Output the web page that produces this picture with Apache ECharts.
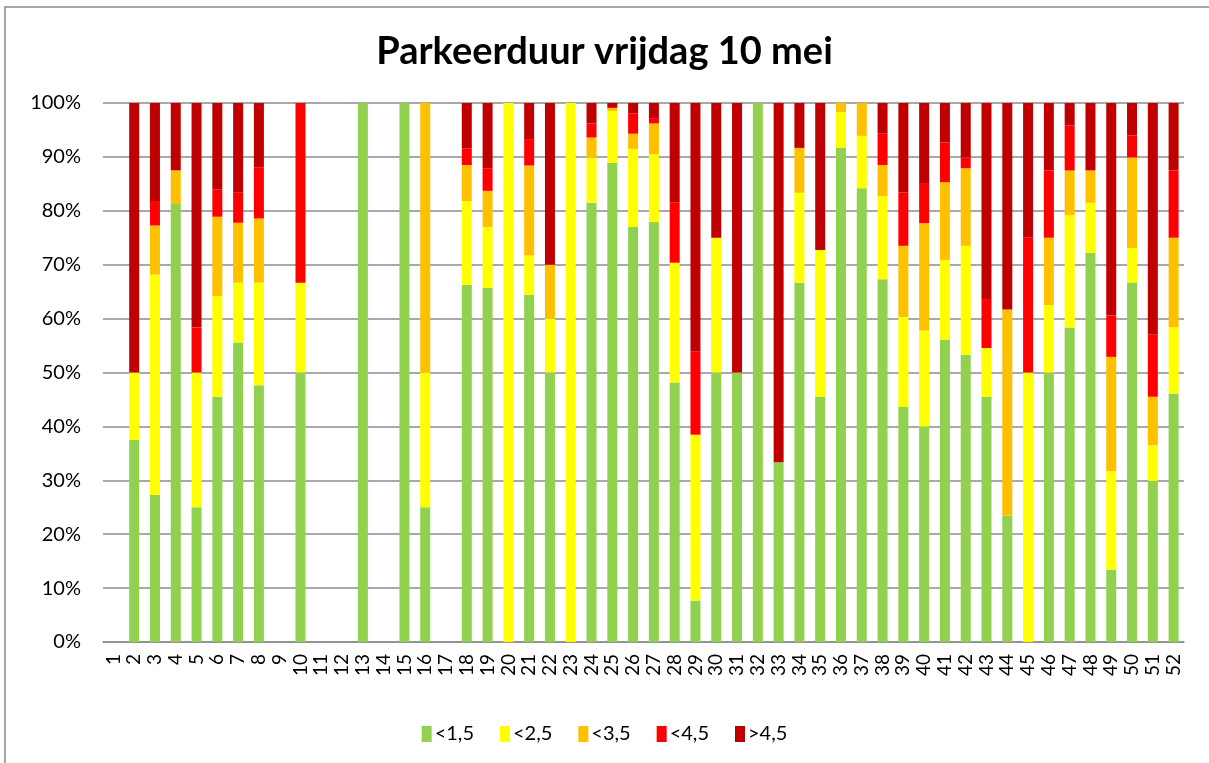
<!DOCTYPE html>
<html>
<head>
<meta charset="utf-8">
<script src="https://cdn.jsdelivr.net/npm/echarts@6/dist/echarts.min.js"></script>
<style>
html,body{margin:0;padding:0;background:#fff;}
#chart{width:1209px;height:763px;}
</style>
</head>
<body>
<div id="chart"></div>
<script>
const categories = ['1','2','3','4','5','6','7','8','9','10','11','12','13','14','15','16','17','18','19','20','21','22','23','24','25','26','27','28','29','30','31','32','33','34','35','36','37','38','39','40','41','42','43','44','45','46','47','48','49','50','51','52'];
const seriesNames = ['<1,5','<2,5','<3,5','<4,5','>4,5'];
const seriesColors = ['#92D050','#FFFF00','#FFC000','#FF0000','#C00000'];

const lt15 = [0,37.5,27.27,81.25,25,45.5,55.56,47.62,0,50,0,0,100,0,100,25,0,66.3,65.7,0,64.4,50,0,81.5,88.9,77.0,77.9,48.15,7.69,50,50,100,33.33,66.67,45.45,91.67,84.2,67.3,43.6,40.0,56.1,53.3,45.45,23.4,0,50,58.33,72.2,13.4,66.7,29.9,46.1];
const lt25 = [0,12.5,40.91,0,25,18.7,11.11,19.05,0,16.67,0,0,0,0,0,25,0,15.5,11.3,100,7.3,10,100,8.3,9.6,14.5,12.6,22.22,30.77,25,0,0,0,16.67,27.27,6.67,9.7,15.4,16.7,17.8,14.8,20.2,9.09,0,50,12.5,20.83,9.3,18.3,6.4,6.6,12.3];
const lt35 = [0,0,9.09,6.25,0,14.7,11.11,11.90,0,0,0,0,0,0,0,50,0,6.7,6.7,0,16.7,10,0,3.8,0.6,2.8,5.7,0,0,0,0,0,0,8.33,0,1.67,6.1,5.8,13.2,19.9,14.4,14.4,0,38.3,0,12.5,8.33,6.0,21.2,16.8,9.0,16.6];
const lt45 = [0,0,4.55,0,8.33,5.1,5.56,9.52,0,33.33,0,0,0,0,0,0,0,3.1,4.2,0,4.9,0,0,2.6,0,3.8,1.0,11.11,15.38,0,0,0,0,0,0,0,0,5.8,9.9,7.3,7.4,2.0,9.09,0,25,12.5,8.33,0,7.7,4.1,11.6,12.5];
const gt45 = [0,50,18.18,12.5,41.67,16.0,16.67,11.90,0,0,0,0,0,0,0,0,0,8.4,12.1,0,6.7,30,0,3.8,0.9,1.9,2.8,18.52,46.15,25,50,0,66.67,8.33,27.27,0,0,5.7,16.6,15.0,7.3,10.1,36.36,38.3,25,12.5,4.17,12.5,39.4,6.0,42.9,12.5];
const seriesData = [lt15, lt25, lt35, lt45, gt45];

const chart = echarts.init(document.getElementById('chart'), null, {renderer:'canvas'});
const fontFam = 'Lato, "Open Sans", sans-serif';
chart.setOption({
  animation: false,
  backgroundColor: '#ffffff',
  title: {
    text: 'Parkeerduur vrijdag 10 mei',
    left: 'center',
    top: 28,
    textStyle: {fontFamily: fontFam, fontWeight: 'bold', fontSize: 38, color: '#000'}
  },
  graphic: [{
    type: 'rect',
    shape: {x: 5, y: 7, width: 1215, height: 770},
    style: {fill: 'none', stroke: '#8c8c8c', lineWidth: 1.5},
    silent: true
  }],
  legend: {
    bottom: 14,
    left: 'center',
    itemWidth: 10,
    itemHeight: 16,
    itemGap: 26,
    icon: 'rect',
    textStyle: {fontFamily: fontFam, fontSize: 20, color: '#000', padding: [0,0,0,-2]},
    data: seriesNames
  },
  grid: {left: 103, right: 25, top: 103, bottom: 121, containLabel: false},
  xAxis: {
    type: 'category',
    data: categories,
    axisLine: {show: true, lineStyle: {color: '#8c8c8c', width: 1.5}},
    axisTick: {show: false},
    axisLabel: {rotate: 90, interval: 0, fontFamily: fontFam, fontSize: 19, color: '#000', margin: 12}
  },
  yAxis: {
    type: 'value',
    min: 0,
    max: 100,
    interval: 10,
    axisLine: {show: false},
    axisTick: {show: false},
    axisLabel: {formatter: '{value}%', fontFamily: fontFam, fontSize: 20, color: '#000', margin: 22},
    splitLine: {lineStyle: {color: '#8c8c8c', width: 1.5}}
  },
  series: seriesNames.map((n, i) => ({
    name: n,
    type: 'bar',
    stack: 'total',
    barWidth: 10,
    data: seriesData[i],
    itemStyle: {color: seriesColors[i]}
  }))
});
</script>
</body>
</html>
